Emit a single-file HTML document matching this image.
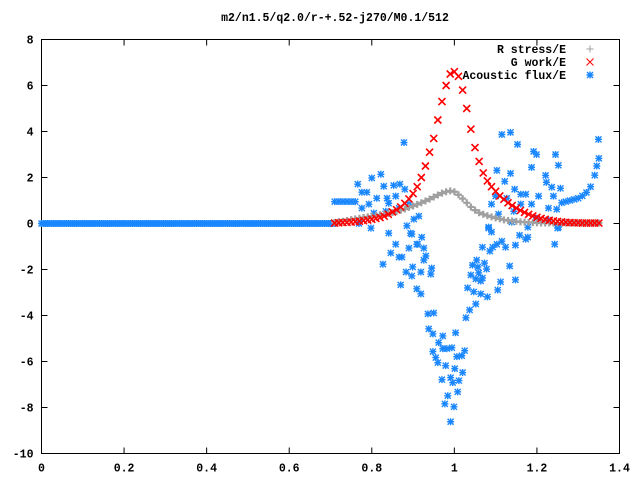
<!DOCTYPE html>
<html><head><meta charset="utf-8"><style>
html,body{margin:0;padding:0;background:#fff}
svg text{font-family:"Liberation Mono",monospace;font-weight:bold;font-size:11.5px;fill:#000}
</style></head><body>
<svg id="chart" width="640" height="480" xmlns="http://www.w3.org/2000/svg">
<rect width="640" height="480" fill="#fff"/>
<text x="335" y="21" text-anchor="middle">m2/n1.5/q2.0/r-+.52-j270/M0.1/512</text>
<g id="axes"></g>
<g id="marks"></g>
<g id="legend">
<text x="566" y="53" text-anchor="end">R stress/E</text>
<text x="566" y="66" text-anchor="end">G work/E</text>
<text x="566" y="79" text-anchor="end">Acoustic flux/E</text>
</g>
</svg>
<script>
const xTicks=[0,0.2,0.4,0.6,0.8,1,1.2,1.4];
const xTickLabels=["0","0.2","0.4","0.6","0.8","1","1.2","1.4"];
const yTicks=[-10,-8,-6,-4,-2,0,2,4,6,8];
const yTickLabels=["-10","-8","-6","-4","-2","0","2","4","6","8"];
const curveX0=0.71, curveStep=0.01;
const gWork=[0.02,0.03,0.04,0.05,0.06,0.08,0.1,0.12,0.15,0.18,0.22,0.26,0.32,0.4,0.5,0.6,0.72,0.88,1.07,1.3,1.6,2.0,2.5,3.1,3.7,4.5,5.3,6.0,6.5,6.6,6.4,5.8,5.0,4.1,3.3,2.7,2.2,1.85,1.6,1.4,1.2,1.05,0.9,0.78,0.67,0.57,0.48,0.4,0.33,0.27,0.22,0.18,0.14,0.11,0.09,0.07,0.05,0.04,0.03,0.03,0.02,0.02,0.02,0.02,0.02];
const rStress=[0.05,0.08,0.1,0.13,0.17,0.2,0.23,0.26,0.29,0.32,0.35,0.38,0.41,0.44,0.48,0.52,0.57,0.63,0.7,0.76,0.83,0.9,0.98,1.06,1.15,1.24,1.32,1.38,1.42,1.38,1.25,1.08,0.9,0.72,0.58,0.47,0.4,0.34,0.29,0.24,0.2,0.16,0.13,0.11,0.09,0.07,0.06,0.05,0.04,0.03,0.02,0.02,0.02,0.02,0.02,0.02,0.02,0.02,0.02,0.02,0.02,0.02,0.02,0.02,0.02];
const flatStep=0.005;
const acFlat=new Array(143).fill(0);
const acX=[0.71,0.72,0.73,0.74,0.75,0.76,0.878,0.8,0.822,0.766,0.776,0.788,0.829,0.853,0.868,0.88,0.812,0.837,0.841,0.858,0.776,0.793,0.805,0.834,0.769,0.798,0.885,0.914,0.902,0.89,0.866,0.841,0.894,0.858,0.909,0.921,0.926,
1.115,1.136,1.153,1.192,1.199,1.245,1.252,1.187,1.103,1.136,1.122,1.221,1.223,1.236,1.257,1.146,1.161,1.173,1.204,1.24,1.1,1.127,1.09,1.161,1.187,1.228,1.248,1.107,1.144,1.199,1.228,1.139,1.083,1.252,
1.26,1.27,1.28,1.29,1.3,1.31,1.32,1.33,1.34,1.345,1.35,1.349,
0.827,0.846,0.866,0.873,0.897,0.911,0.89,0.931,0.926,0.883,0.899,0.919,0.897,0.943,0.945,0.87,0.909,0.919,0.936,0.95,0.938,0.948,0.972,1.003,0.962,0.948,0.972,0.982,0.994,1.025,0.955,0.96,1.006,1.018,0.979,1.001,1.02,0.97,0.991,1.011,0.996,1.008,0.984,0.977,0.999,0.991,
1.028,1.037,1.052,1.032,1.047,1.064,1.08,1.105,1.112,1.148,1.134,1.04,1.052,1.064,1.068,1.059,1.044,1.054,1.073,1.078,1.057,1.068,1.086,1.093,1.103,1.115,1.124,1.148,1.158,1.173,1.178,1.178,1.083,1.09,1.243,1.25];
const acY=[0.95,0.95,0.95,0.95,0.95,0.95,3.52,1.98,2.14,1.71,1.36,1.36,1.62,1.66,1.71,1.49,1.1,1.1,0.88,1.19,0.67,0.84,0.45,0.53,0.0,-0.2,-0.1,0.32,0.19,0.84,0.67,-0.42,-0.42,-0.9,-0.9,-0.6,-1.07,
3.87,3.96,3.44,3.13,3.0,3.0,2.53,2.44,2.31,2.18,1.83,2.09,1.79,1.58,1.53,1.49,1.27,1.27,1.19,1.19,1.19,1.1,0.84,0.84,0.84,0.67,0.62,0.41,0.53,0.23,0.15,0.06,-0.16,-0.16,
0.9,0.95,1.0,1.05,1.1,1.2,1.35,1.6,2.1,2.5,2.83,3.66,
-1.77,-1.28,-1.46,-1.46,-0.46,-0.9,-1.07,-1.41,-1.59,-2.11,-1.89,-2.11,-2.28,-2.2,-1.94,-2.67,-2.84,-3.06,-3.93,-3.89,-4.58,-4.8,-4.89,-4.75,-5.18,-5.57,-5.44,-5.44,-5.4,-5.53,-5.83,-6.05,-5.79,-5.75,-6.18,-6.31,-6.48,-6.79,-6.7,-6.83,-6.92,-7.32,-7.49,-7.84,-7.97,-8.62,
-4.1,-3.76,-3.5,-2.8,-2.97,-3.06,-3.19,-2.89,-2.54,-2.45,-1.85,-2.24,-2.41,-2.5,-2.37,-2.15,-1.81,-1.59,-1.72,-1.98,-1.89,-1.03,-1.2,-1.03,-0.9,-0.77,-1.03,-0.94,-0.51,-0.68,-0.6,-0.16,-0.2,-0.37,-0.9,-0.2];

const L=41.5,R=619.5,T=39.5,B=453.5;
const xMin=0,xMax=1.4,yMin=-10,yMax=8;
const sx=v=>L+(v-xMin)/(xMax-xMin)*(R-L);
const sy=v=>B-(v-yMin)/(yMax-yMin)*(B-T);
const NS="http://www.w3.org/2000/svg";
const axes=document.getElementById('axes'), marks=document.getElementById('marks');
function mk(tag,attrs,parent){const e=document.createElementNS(NS,tag);for(const k in attrs)e.setAttribute(k,attrs[k]);parent.appendChild(e);return e;}

const frame=mk('rect',{x:L,y:T,width:R-L,height:B-T,fill:'none',stroke:'#000','stroke-width':1},axes);


xTicks.forEach((t,i)=>{
  const x=sx(t);
  const a=mk('path',{d:`M${x},${B}v-6M${x},${T}v6`,stroke:'#000','stroke-width':1},axes);
  
  
  const tx=mk('text',{x:x,y:B+18,'text-anchor':'middle'},axes);
  tx.textContent=xTickLabels[i];
  
  
});
yTicks.forEach((t,i)=>{
  const y=sy(t);
  const a=mk('path',{d:`M${L},${y}h6M${R},${y}h-6`,stroke:'#000','stroke-width':1},axes);
  
  
  const tx=mk('text',{x:L-8,y:y+4,'text-anchor':'end'},axes);
  tx.textContent=yTickLabels[i];
  
  
});

function plus(x,y,c,w){return `<path d="M${x-3.5},${y}h7M${x},${y-3.5}v7" stroke="${c}" stroke-width="${w||1}" fill="none"/>`;}
function cross(x,y,c,w){return `<path d="M${x-3.5},${y-3.5}l7,7M${x-3.5},${y+3.5}l7,-7" stroke="${c}" stroke-width="${w||1}" fill="none"/>`;}
function star(x,y,c){return `<path d="M${x-3.5},${y}h7M${x},${y-3.5}v7M${x-3},${y-3}l6,6M${x-3},${y+3}l6,-6" stroke="${c}" stroke-width="1.4" fill="none"/>`;}

const gA=mk('g',{},marks);


let s='';
acFlat.forEach((v,i)=>{s+=star(sx(i*flatStep),sy(v),'#1a87ff');});
acX.forEach((v,i)=>{s+=star(sx(v),sy(acY[i]),'#1a87ff');});
gA.innerHTML=s;

const gR=mk('g',{},marks);


s='';
rStress.forEach((v,i)=>{s+=plus(sx(curveX0+i*curveStep),sy(v),'#a0a0a0',2.2);});
gR.innerHTML=s;

const gG=mk('g',{},marks);


s='';
gWork.forEach((v,i)=>{s+=cross(sx(curveX0+i*curveStep),sy(v),'#ff0000',1.6);});
gG.innerHTML=s;

const lg=document.getElementById('legend');
const l1=mk('g',{},lg);l1.innerHTML=plus(590,49,'#a0a0a0');


const l2=mk('g',{},lg);l2.innerHTML=cross(590,62,'#ff0000');


const l3=mk('g',{},lg);l3.innerHTML=star(590,75,'#1a87ff');


</script>
</body></html>
